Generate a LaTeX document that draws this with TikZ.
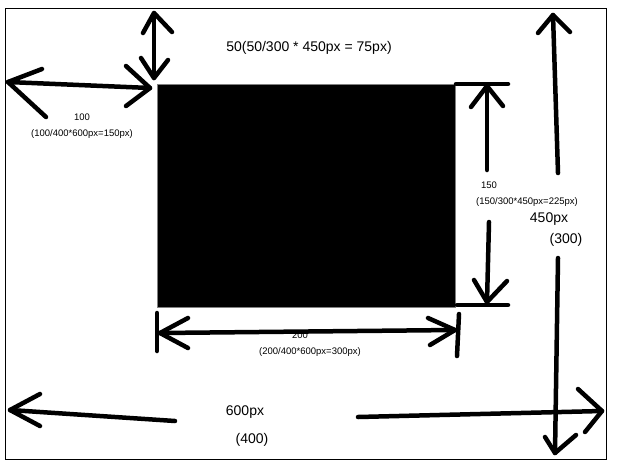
\documentclass[tikz,border=0pt]{standalone}
\usepackage{fontspec}
\setmainfont{Liberation Sans}
\begin{document}
\begin{tikzpicture}[x=1pt,y=-1pt,stroke/.style={line width=4.5pt,line cap=round,line join=round},
 big/.style={font=\fontsize{14}{16}\selectfont,inner sep=0},
 small/.style={font=\fontsize{9.5}{11}\selectfont,inner sep=0}]
\useasboundingbox (0,0) rectangle (626,464);
\draw[line width=1pt] (5,8) rectangle (606,459);
\node[fill=black,draw=gray,minimum width=298pt,minimum height=223pt,anchor=north west,inner sep=0] (box) at (157,84) {};
% top 50 arrow
\draw[stroke] (154,13) -- (154,78);
\draw[stroke] (143,33) -- (154,13) -- (172,32);
\draw[stroke] (141,58) -- (154,78) -- (168,60);
% left 100 arrow
\draw[stroke] (8,82) -- (150,88);
\draw[stroke] (42,69) -- (8,82) -- (46,117);
\draw[stroke] (126,66) -- (150,88) -- (126,106);
% right 150 arrow
\draw[stroke] (456,84) -- (508,84);
\draw[stroke] (487,86) -- (487,170);
\draw[stroke] (471,107) -- (487,86) -- (503,106);
\draw[stroke] (489,222) -- (487,302);
\draw[stroke] (474,280) -- (487,302) -- (507,281);
\draw[stroke] (457,305) -- (508,305);
% bottom 200 arrow
\draw[stroke] (157,313) -- (157,351);
\draw[stroke] (459,314) -- (457,356);
\draw[stroke] (160,333) -- (455,330);
\draw[stroke] (188,318) -- (160,333) -- (188,348);
\draw[stroke] (428,318) -- (455,330) -- (430,345);
% big horizontal
\draw[stroke] (10,410) -- (175,421);
\draw[stroke] (40,394) -- (10,410) -- (40,426);
\draw[stroke] (358,417) -- (602,411);
\draw[stroke] (578,389) -- (602,411) -- (585,432);
% big vertical
\draw[stroke] (553,15) -- (558,173);
\draw[stroke] (538,33) -- (553,15) -- (570,32);
\draw[stroke] (558,258) -- (555,453);
\draw[stroke] (545,437) -- (555,453) -- (576,435);
% texts
\node[big] (t50) at (309,48) {50(50/300 * 450px = 75px)};
\node[small] (t100) at (82,117) {100};
\node[small] (t100b) at (82,134) {(100/400*600px=150px)};
\node[small] (t150) at (489,185) {150};
\node[small] (t150b) at (527,202) {(150/300*450px=225px)};
\node[big] (t450) at (549,219) {450px};
\node[big] (t300) at (566,240) {(300)};
\node[small] (t200) at (300,335) {200};
\node[small] (t200b) at (310,352) {(200/400*600px=300px)};
\node[big] (t600) at (245,412) {600px};
\node[big] (t400) at (252,440) {(400)};
\end{tikzpicture}
\end{document}
